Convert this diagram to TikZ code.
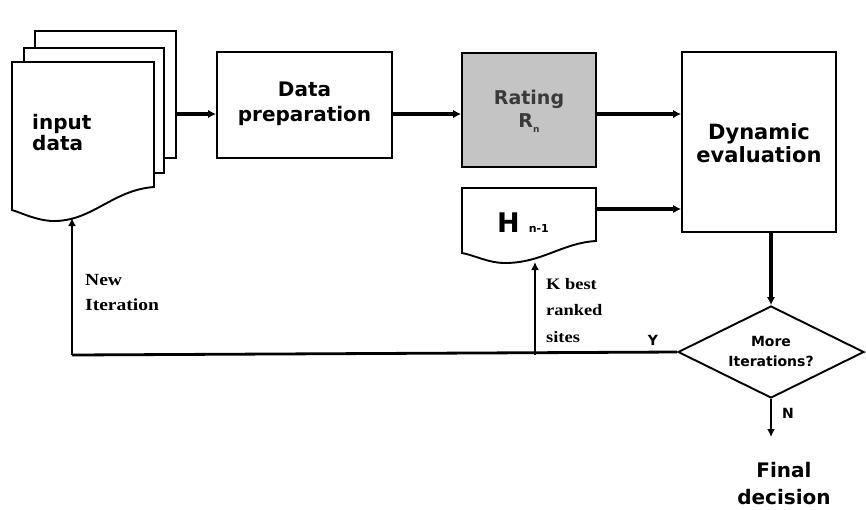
\documentclass[tikz,border=0pt]{standalone}
\usepackage{fontspec}
\usetikzlibrary{arrows.meta,shapes.geometric}
\setmainfont{DejaVu Sans}
\newfontfamily\serifb{Liberation Serif}[FakeStretch=1.15]
\definecolor{rategray}{HTML}{C4C4C4}
\definecolor{ratetext}{HTML}{3A3A3A}
\tikzset{
  boxline/.style={draw=black, line width=1.9pt},
  plainbox/.style={boxline, rectangle, fill=white, inner sep=0pt},
  boxtext/.style={font=\fontsize{20}{25}\selectfont\bfseries, align=center},
  arr/.style={line width=3.6pt, -{Latex[length=8pt,width=8.5pt]}},
  thinarr/.style={line width=2.8pt, -{Latex[length=8pt,width=8pt]}},
  notetext/.style={font=\serifb\fontsize{17}{25}\selectfont\bfseries, align=left, anchor=north west, inner sep=0pt},
}
\begin{document}
\begin{tikzpicture}[x=1pt,y=-1pt]
\useasboundingbox (0,0) rectangle (866,509);
% input data stack
\draw[boxline, fill=white] (35,31) rectangle (176,158);
\draw[boxline, fill=white] (24,48) rectangle (164,173);
\draw[boxline, fill=white] (12,62) -- (154,62) -- (154,187)
  .. controls (112,190) and (92,222) .. (52,221)
  .. controls (35,220) and (22,213) .. (12,210) -- cycle;
\node[rectangle, minimum width=142pt, minimum height=120pt, inner sep=0pt] (input) at (83,112) {};
\node[font=\fontsize{20}{21}\selectfont\bfseries, align=left, anchor=west, inner sep=0pt] (inputtxt) at (32,133) {input\\data};
\coordinate (inbot) at (72,218);
\coordinate (stackout) at (176,114);
% data preparation
\node[plainbox, minimum width=175pt, minimum height=106pt] (prep) at (304.5,105) {};
\node[boxtext] (preptxt) at (304.5,104) {Data\\preparation};
% rating
\node[boxline, rectangle, fill=rategray, minimum width=134pt, minimum height=114pt, inner sep=0pt] (rate) at (529,110) {};
\node[font=\fontsize{19}{23}\selectfont\bfseries, text=ratetext, align=center] (ratetxt) at (529,111) {Rating\\R\raisebox{-0.45ex}{\fontsize{9}{9}\selectfont n}};
% H document
\draw[boxline, fill=white] (462,188) -- (596,188) -- (596,241)
  .. controls (562,243) and (542,263) .. (505,263)
  .. controls (488,263) and (474,255) .. (462,253) -- cycle;
\node[rectangle, minimum width=134pt, minimum height=42pt, inner sep=0pt] (hbox) at (529,209) {};
\node[font=\fontsize{27}{27}\selectfont\bfseries, inner sep=0pt, anchor=base west] (htxt) at (497,232) {H\,\,\fontsize{11}{11}\selectfont n-1};
\coordinate (hbot) at (535,262);
% dynamic evaluation
\node[plainbox, minimum width=154pt, minimum height=180pt] (dyn) at (759,142) {};
\node[boxtext, font=\fontsize{21}{23}\selectfont\bfseries] (dyntxt) at (759,143) {Dynamic\\evaluation};
% diamond
\node[draw, line width=1.9pt, diamond, shape aspect=2, minimum width=186pt, minimum height=92pt, inner sep=0pt, fill=white] (more) at (771,352) {};
\node[font=\fontsize{14}{20}\selectfont\bfseries, align=center] (moretxt) at (771,351) {More\\Iterations?};
% final decision
\node[boxtext, font=\fontsize{20}{27}\selectfont\bfseries] (final) at (784,484) {Final\\decision};
\coordinate (nend) at (771,437);
% labels
\node[font=\fontsize{14}{14}\selectfont\bfseries] (ylab) at (653,340) {Y};
\node[font=\fontsize{14}{14}\selectfont\bfseries] (nlab) at (788,413) {N};
\node[notetext] (newit) at (85,274) {New\\Iteration};
\node[notetext, font=\serifb\fontsize{16}{26.5}\selectfont\bfseries] (kbest) at (546,278) {K best\\ranked\\sites};
% connectors
\coordinate (loopcorner) at (72,355);
\coordinate (kbase) at (535,355);
\draw[arr] (stackout) -- (prep.west |- stackout);
\draw[arr] (prep.east |- stackout) -- (rate.west |- stackout);
\draw[arr] (rate.east |- stackout) -- (dyn.west |- stackout);
\draw[arr] (hbox.east) -- (dyn.west |- hbox.east);
\draw[arr] (dyn.south -| more.north) -- (more.north);
\draw[thinarr, -] (more.west) -- (loopcorner);
\draw[thinarr] (loopcorner) -- (inbot);
\draw[thinarr] (kbase) -- (hbot);
\draw[thinarr] (more.south) -- (nend);
\end{tikzpicture}
\end{document}
